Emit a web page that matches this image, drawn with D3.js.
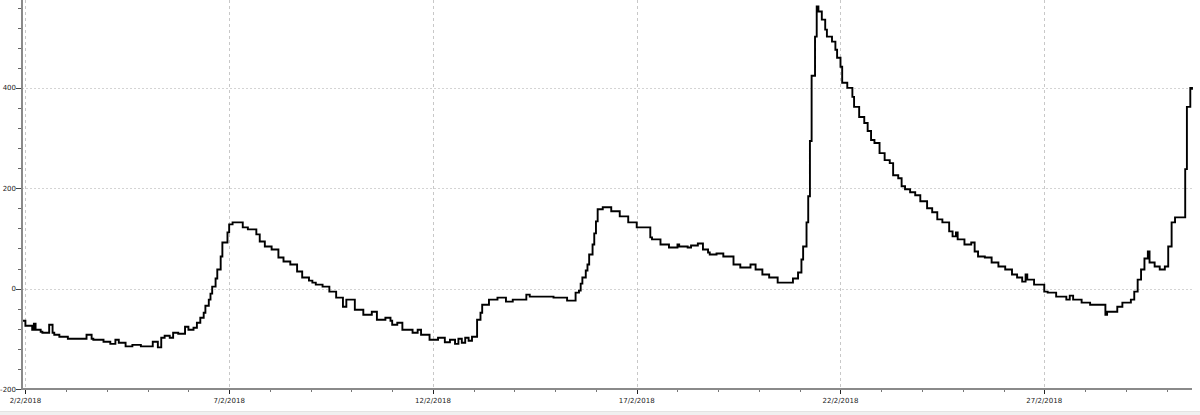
<!DOCTYPE html>
<html>
<head>
<meta charset="utf-8">
<script src="https://cdn.jsdelivr.net/npm/d3@7/dist/d3.min.js"></script>
<style>
  html, body { margin: 0; padding: 0; background: #fff; }
  svg { display: block; }
  text { font-family: "DejaVu Sans", Verdana, sans-serif; font-size: 7px; fill: #222; }
</style>
</head>
<body>
<svg id="chart" width="1200" height="415"></svg>
<script>
// ---- data (hours after 2018-02-02 00:00, step-after series) ----
const startDate = "2018-02-02T00:00:00Z";
const hours = [
  -2,0,4,5,6,9,10,14,16,17,
  20,25,36,39,40,46,50,53,55,59,
  63,68,75,78,80,82,85,87,90,94,
  96,99,101,103,105,106,108,109,110,112,
  113,115,116,119,120,122,128,131,136,138,
  141,145,149,152,156,160,163,167,169,171,
  175,179,183,187,189,194,199,204,207,212,
  215,216,219,222,228,231,233,238,243,247,
  250,253,255,257,259,261,263,266,268,269,
  273,278,283,287,295,297,311,319,324,326,
  327,328,330,331,332,334,335,336,337,340,
  345,350,355,360,368,369,374,379,384,385,
  390,392,396,399,402,403,407,411,417,421,
  427,430,434,438,443,452,455,457,458,460,
  461,462,463,465,466,467,469,471,472,475,
  477,478,480,481,484,487,488,491,494,496,
  498,500,503,506,509,511,514,516,518,521,
  524,527,531,534,537,540,544,546,548,549,
  553,557,559,561,565,569,573,577,581,584,
  587,589,590,594,600,602,607,613,615,617,
  622,627,636,637,643,646,651,653,655,657,
  659,661,662,665,668,671,673,675,677,683,
  684,686,687
];
const values = [
  -64,-74,-82,-70,-82,-86,-88,-72,-88,-92,
  -96,-100,-92,-100,-102,-106,-110,-102,-108,-115,
  -112,-115,-106,-117,-98,-94,-98,-88,-90,-76,
  -82,-78,-68,-58,-48,-34,-22,-10,4,20,
  38,64,92,112,128,132,122,118,108,94,
  84,78,62,54,48,34,22,16,12,8,
  4,-6,-18,-36,-22,-42,-52,-46,-62,-58,
  -64,-72,-68,-82,-88,-82,-92,-102,-98,-107,
  -102,-110,-100,-108,-98,-104,-96,-62,-48,-32,
  -22,-18,-26,-22,-12,-16,-18,-24,-8,-4,
  10,22,36,48,68,88,110,134,158,162,
  154,144,132,122,102,98,88,82,88,84,
  82,86,90,78,72,68,70,64,48,42,
  48,38,28,22,12,20,32,58,84,132,
  184,294,424,502,562,552,536,516,502,492,
  476,460,442,410,400,382,362,342,330,314,
  296,290,270,256,250,226,220,204,198,192,
  186,174,160,152,138,132,114,104,112,98,
  88,92,74,64,62,52,44,38,28,22,
  14,28,18,8,-6,-8,-16,-22,-14,-22,
  -28,-32,-52,-46,-36,-28,-22,-6,18,38,
  60,74,52,44,38,44,84,132,142,238,
  362,400,396
];
const xMajorTicks = ["2018-02-02","2018-02-07","2018-02-12","2018-02-17","2018-02-22","2018-02-27"];
const yMajorTicks = [-200, 0, 200, 400];
const yDomain = [-200, 575];
const xDomainHours = [-2, 687];

// ---- drawing ----
(function () {
const svg = d3.select("#chart");
const t0 = new Date(startDate);
const toDate = h => d3.utcHour.offset(t0, h);
const data = hours.map((h, i) => ({ t: toDate(h), v: values[i] }));

const mLeft = 22, mRight = 1192, mTop = 0, mBottom = 389;
const x = d3.scaleUtc().domain(xDomainHours.map(toDate)).range([mLeft, mRight]);
const y = d3.scaleLinear().domain(yDomain).range([mBottom, mTop]);

const fmt = d3.utcFormat("%-d/%-m/%Y");
const majorDates = xMajorTicks.map(s => new Date(s + "T00:00:00Z"));
const minorDates = d3.utcDay.range(d3.utcDay.ceil(x.domain()[0]), x.domain()[1]);
const yMinor = d3.range(yDomain[0], yDomain[1], 40);

// bottom gray strip
svg.append("rect").attr("x", 0).attr("y", 411).attr("width", 1200).attr("height", 4).attr("fill", "#f0f0f0");
svg.append("line").attr("x1", 0).attr("x2", 1200).attr("y1", 411.5).attr("y2", 411.5).attr("stroke", "#e4e4e4");

// grid
svg.append("g").selectAll("line").data(majorDates).join("line")
  .attr("x1", d => Math.round(x(d)) + 0.5).attr("x2", d => Math.round(x(d)) + 0.5)
  .attr("y1", mTop).attr("y2", mBottom)
  .attr("stroke", "#c8c8c8").attr("stroke-dasharray", "3,3");
svg.append("g").selectAll("line").data(yMajorTicks.filter(v => v > yDomain[0])).join("line")
  .attr("x1", mLeft).attr("x2", mRight)
  .attr("y1", d => Math.round(y(d)) + 0.5).attr("y2", d => Math.round(y(d)) + 0.5)
  .attr("stroke", "#d4d4d4").attr("stroke-dasharray", "2,2");

// series
const line = d3.line().x(d => x(d.t)).y(d => y(d.v)).curve(d3.curveStepAfter);
const lastPt = { t: x.domain()[1], v: values[values.length - 1] };
svg.append("path").datum(data.concat([lastPt]))
  .attr("d", line).attr("fill", "none").attr("stroke", "#000")
  .attr("stroke-width", 1.9).attr("stroke-linejoin", "miter");

// axes lines
svg.append("line").attr("x1", mLeft).attr("x2", mLeft).attr("y1", mTop).attr("y2", mBottom + 1)
  .attr("stroke", "#8a8a8a").attr("stroke-width", 2);
svg.append("line").attr("x1", mLeft - 1).attr("x2", mRight).attr("y1", mBottom).attr("y2", mBottom)
  .attr("stroke", "#8a8a8a").attr("stroke-width", 2);

// y ticks
svg.append("g").selectAll("line").data(yMinor.filter(v => !yMajorTicks.includes(v))).join("line")
  .attr("x1", mLeft - 4).attr("x2", mLeft - 1)
  .attr("y1", d => Math.round(y(d)) + 0.5).attr("y2", d => Math.round(y(d)) + 0.5)
  .attr("stroke", "#666");
svg.append("g").selectAll("line").data(yMajorTicks).join("line")
  .attr("x1", mLeft - 6).attr("x2", mLeft - 1)
  .attr("y1", d => Math.round(y(d)) + 0.5).attr("y2", d => Math.round(y(d)) + 0.5)
  .attr("stroke", "#444");
svg.append("g").selectAll("text").data(yMajorTicks).join("text")
  .attr("x", mLeft - 6).attr("y", d => y(d) + 2.5)
  .attr("text-anchor", "end").text(d => d);

// x ticks
svg.append("g").selectAll("line").data(minorDates.filter(d => !majorDates.some(m => +m === +d))).join("line")
  .attr("x1", d => Math.round(x(d)) + 0.5).attr("x2", d => Math.round(x(d)) + 0.5)
  .attr("y1", mBottom + 1).attr("y2", mBottom + 3)
  .attr("stroke", "#777");
svg.append("g").selectAll("line").data(majorDates).join("line")
  .attr("x1", d => Math.round(x(d)) + 0.5).attr("x2", d => Math.round(x(d)) + 0.5)
  .attr("y1", mBottom + 1).attr("y2", mBottom + 5)
  .attr("stroke", "#222");
svg.append("g").selectAll("text").data(majorDates).join("text")
  .attr("x", d => x(d)).attr("y", mBottom + 14)
  .attr("text-anchor", "middle").text(d => fmt(d));
})();
</script>
</body>
</html>
